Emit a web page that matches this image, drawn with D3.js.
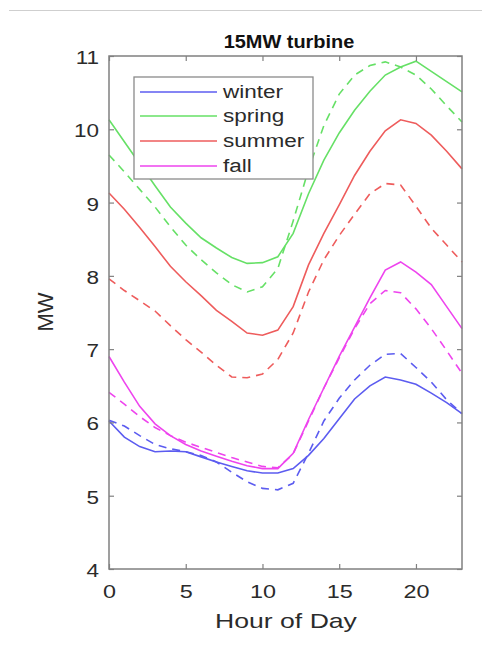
<!DOCTYPE html>
<html><head><meta charset="utf-8">
<script src="https://cdn.jsdelivr.net/npm/d3@7"></script>
<style>body{margin:0;background:#fff}svg{display:block}</style>
</head><body>
<script>
const hours = [0,1,2,3,4,5,6,7,8,9,10,11,12,13,14,15,16,17,18,19,20,21,22,23];
const winterSolid  = [6.02,5.80,5.67,5.60,5.61,5.60,5.53,5.46,5.40,5.34,5.31,5.31,5.37,5.55,5.78,6.05,6.32,6.50,6.62,6.58,6.52,6.40,6.27,6.12];
const winterDashed = [6.03,5.95,5.82,5.70,5.64,5.60,5.55,5.46,5.32,5.19,5.10,5.08,5.17,5.58,6.02,6.33,6.58,6.78,6.93,6.94,6.75,6.55,6.31,6.12];
const springSolid  = [10.13,9.83,9.53,9.23,8.94,8.72,8.52,8.38,8.25,8.17,8.18,8.26,8.58,9.12,9.58,9.95,10.26,10.52,10.74,10.85,10.93,10.79,10.65,10.51];
const springDashed = [9.65,9.42,9.18,8.94,8.67,8.42,8.22,8.04,7.88,7.78,7.85,8.10,8.75,9.45,10.05,10.48,10.74,10.87,10.92,10.85,10.74,10.55,10.32,10.10];
const summerSolid  = [9.13,8.91,8.66,8.40,8.13,7.92,7.73,7.53,7.38,7.22,7.19,7.26,7.58,8.15,8.58,8.97,9.37,9.70,9.98,10.13,10.08,9.92,9.70,9.46];
const summerDashed = [7.96,7.80,7.66,7.52,7.32,7.13,6.96,6.78,6.62,6.61,6.66,6.86,7.22,7.78,8.22,8.55,8.84,9.12,9.26,9.24,8.95,8.65,8.42,8.19];
const fallSolid    = [6.90,6.55,6.22,5.98,5.82,5.70,5.61,5.54,5.47,5.41,5.37,5.37,5.58,6.04,6.47,6.90,7.30,7.70,8.08,8.19,8.05,7.88,7.58,7.28];
const fallDashed   = [6.41,6.25,6.08,5.93,5.82,5.73,5.66,5.59,5.52,5.46,5.40,5.38,5.57,6.02,6.47,6.88,7.28,7.62,7.80,7.77,7.55,7.28,6.98,6.67];
const seasons = ["winter","spring","summer","fall"];
const seasonColors = ["#5c5cf0","#66e066","#ee5c5c","#ee44ee"];
const xTicks = [0,5,10,15,20];
const yTicks = [4,5,6,7,8,9,10,11];
const titleText = "15MW turbine";
const xLabel = "Hour of Day";
const yLabel = "MW";

const solidSeries = [winterSolid, springSolid, summerSolid, fallSolid];
const dashedSeries = [winterDashed, springDashed, summerDashed, fallDashed];

const W = 482, H = 645;
const box = {l:109, r:462, t:56, b:569};
const font = "'Liberation Sans', Arial, sans-serif";
const txt = "#2b2b2b";

const svg = d3.select("body").append("svg").attr("width", W).attr("height", H);

svg.append("line").attr("x1",9).attr("x2",W).attr("y1",10.5).attr("y2",10.5)
  .attr("stroke","#cfcfcf").attr("stroke-width",1);

const x = d3.scaleLinear().domain([0,23]).range([box.l, box.r]);
const y = d3.scaleLinear().domain([4,11]).range([box.b, box.t]);

const line = d3.line().x((d,i) => x(hours[i])).y(d => y(d));

const plot = svg.append("g");
seasons.forEach((s, k) => {
  plot.append("path").datum(dashedSeries[k]).attr("d", line)
    .attr("fill","none").attr("stroke", seasonColors[k]).attr("stroke-width",1.6)
    .attr("stroke-dasharray","8,6");
});
seasons.forEach((s, k) => {
  plot.append("path").datum(solidSeries[k]).attr("d", line)
    .attr("fill","none").attr("stroke", seasonColors[k]).attr("stroke-width",1.6);
});

// axes
const axisColor = "#808080";
function styleAxis(g){
  g.select(".domain").remove();
  g.selectAll(".tick line").attr("stroke", axisColor).attr("stroke-width",1.2);
}
const gx = svg.append("g").attr("transform",`translate(0,${box.b})`)
  .call(d3.axisBottom(x).tickValues(xTicks).tickFormat(d3.format("d")).tickSizeInner(-5).tickSizeOuter(0).tickPadding(16));
styleAxis(gx);
gx.selectAll(".tick text").attr("font-family",font).attr("font-size",18).attr("fill",txt)
  .attr("transform","scale(1.3,1)");

const gxt = svg.append("g").attr("transform",`translate(0,${box.t})`)
  .call(d3.axisTop(x).tickValues(xTicks).tickSizeInner(-5).tickSizeOuter(0).tickFormat(""));
styleAxis(gxt);

const gy = svg.append("g").attr("transform",`translate(${box.l},0)`)
  .call(d3.axisLeft(y).tickValues(yTicks).tickFormat(d3.format("d")).tickSizeInner(-5).tickSizeOuter(0).tickPadding(8));
styleAxis(gy);
gy.selectAll(".tick text").attr("font-family",font).attr("font-size",18).attr("fill",txt)
  .attr("dy","0.42em").attr("transform","scale(1.25,1)");

const gyr = svg.append("g").attr("transform",`translate(${box.r},0)`)
  .call(d3.axisRight(y).tickValues(yTicks).tickSizeInner(-5).tickSizeOuter(0).tickFormat(""));
styleAxis(gyr);

svg.append("rect").attr("x",box.l).attr("y",box.t).attr("width",box.r-box.l).attr("height",box.b-box.t)
  .attr("fill","none").attr("stroke",axisColor).attr("stroke-width",1.5);

// legend
const lg = svg.append("g");
lg.append("rect").attr("x",134).attr("y",77).attr("width",179).attr("height",102)
  .attr("fill","#fff").attr("stroke","#8a8a8a").attr("stroke-width",1.3);
const rowY = [92,116,141,166];
seasons.forEach((s,k) => {
  lg.append("line").attr("x1",140).attr("x2",217).attr("y1",rowY[k]).attr("y2",rowY[k])
    .attr("stroke",seasonColors[k]).attr("stroke-width",1.6);
  lg.append("text").attr("transform",`translate(223,${rowY[k]+6}) scale(1.25,1)`)
    .attr("font-family",font).attr("font-size",18).attr("fill",txt).text(s);
});

// title & labels
svg.append("text").attr("transform","translate(289,48) scale(1.05,1)").attr("text-anchor","middle")
  .attr("font-family",font).attr("font-weight","bold").attr("font-size",19).attr("fill","#111").text(titleText);
svg.append("text").attr("transform","translate(286,628) scale(1.33,1)").attr("text-anchor","middle")
  .attr("font-family",font).attr("font-size",20).attr("fill",txt).text(xLabel);
svg.append("text").attr("transform","translate(53,312) rotate(-90)").attr("text-anchor","middle")
  .attr("font-family",font).attr("font-size",22).attr("fill",txt).text(yLabel);
</script>
</body></html>
